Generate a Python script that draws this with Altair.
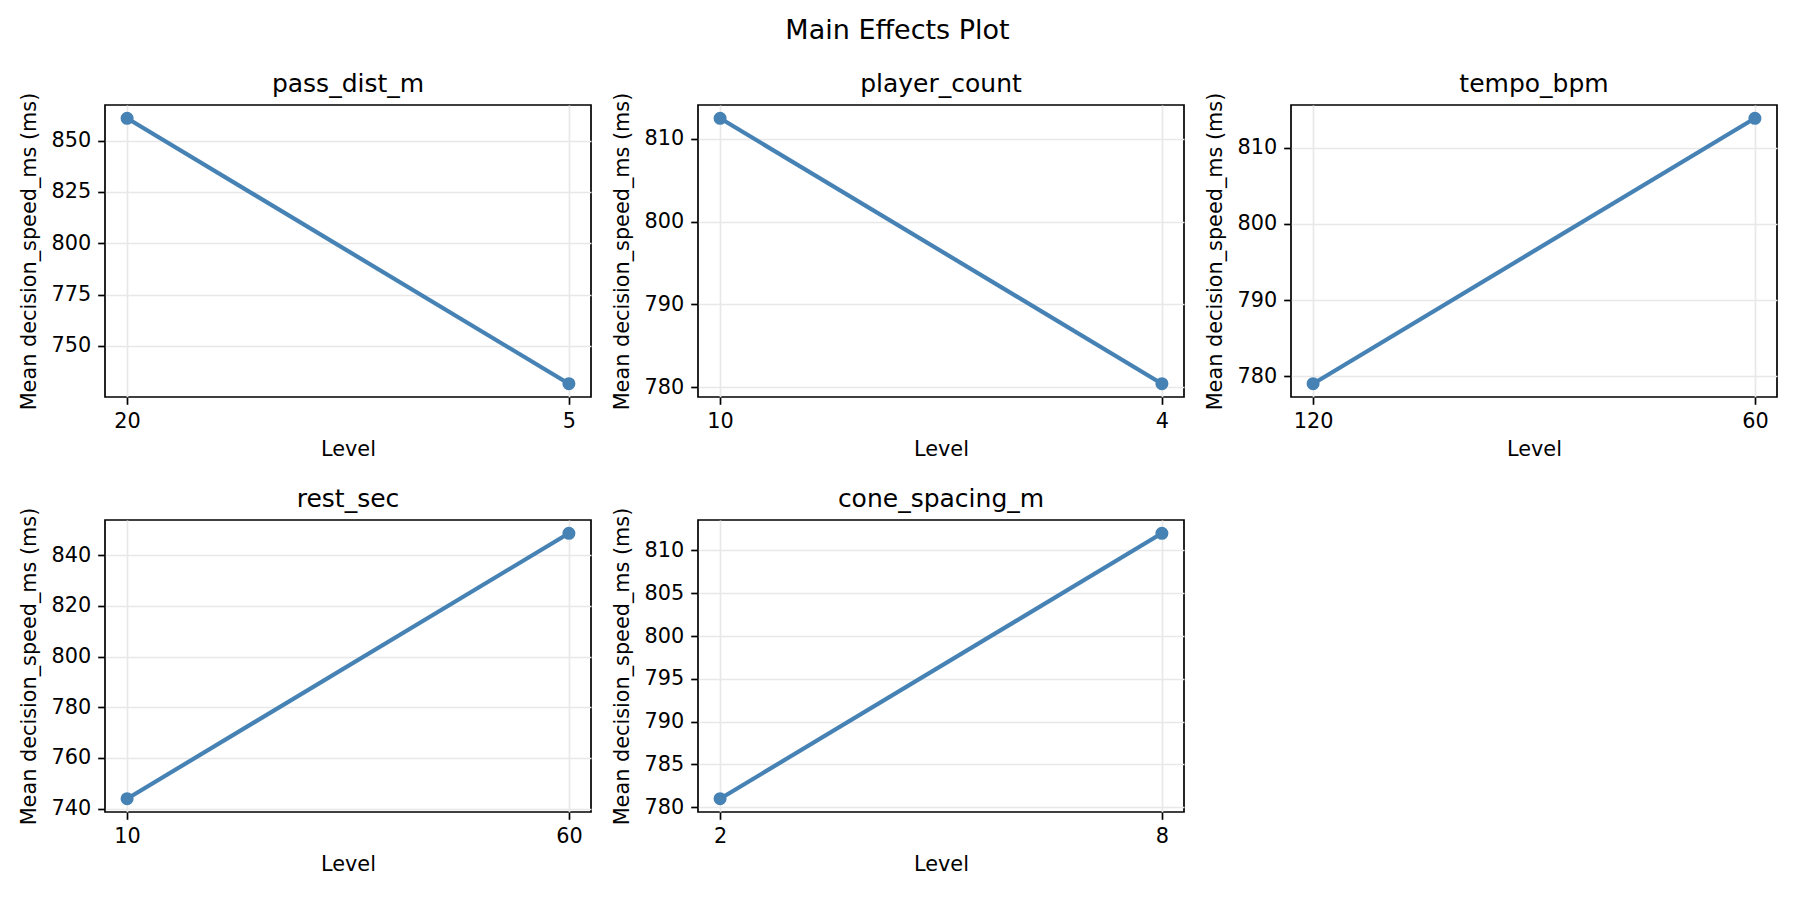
import altair as alt
import pandas as pd

# ---- data ----
factors = ["pass_dist_m", "player_count", "tempo_bpm", "rest_sec", "cone_spacing_m"]
levels = [["20", "5"], ["10", "4"], ["120", "60"], ["10", "60"], ["2", "8"]]
means = [[860.9, 731.6], [812.5, 780.4], [779.0, 813.9], [743.9, 848.7], [781.0, 812.0]]
y_ticks = [
    [750, 775, 800, 825, 850],
    [780, 790, 800, 810],
    [780, 790, 800, 810],
    [740, 760, 780, 800, 820, 840],
    [780, 785, 790, 795, 800, 805, 810],
]

FONT = "DejaVu Sans"
BLUE = "#4682b4"
W, H = 486, 292


def panel(i):
    df = pd.DataFrame({"Level": levels[i], "Mean": means[i]})
    lo, hi = min(means[i]), max(means[i])
    m = 0.05 * (hi - lo)
    x = alt.X(
        "Level:N",
        sort=levels[i],
        scale=alt.Scale(type="point", padding=0.05),
        axis=alt.Axis(title="Level", labelAngle=0, titlePadding=8),
    )
    y = alt.Y(
        "Mean:Q",
        scale=alt.Scale(domain=[lo - m, hi + m], nice=False, zero=False),
        axis=alt.Axis(title="Mean decision_speed_ms (ms)", values=y_ticks[i], titlePadding=12),
    )
    base = alt.Chart(df).encode(x=x, y=y)
    line = base.mark_line(color=BLUE, strokeWidth=4.2)
    pts = base.mark_circle(color=BLUE, size=170, opacity=1)
    return (line + pts).properties(
        width=W,
        height=H,
        title=alt.TitleParams(factors[i], fontSize=25, font=FONT, fontWeight="normal",
                              baseline="alphabetic", offset=-25, color="black"),
    )


chart = alt.concat(
    *[panel(i) for i in range(5)],
    columns=3,
    spacing={"row": 123, "column": 107},
    bounds="flush",
).properties(
    title=alt.TitleParams("Main Effects Plot", fontSize=27, font=FONT, fontWeight="normal",
                          anchor="middle", baseline="alphabetic", offset=5, color="black"),
    padding={"left": 9, "top": 9, "right": 5, "bottom": 5},
).configure_view(
    stroke="black", strokeWidth=1.7
).configure_axis(
    labelFont=FONT, titleFont=FONT, labelFontSize=20.8, titleFontSize=20.8,
    titleFontWeight="normal", labelColor="black", titleColor="black",
    domain=False, tickColor="black", tickWidth=1.7, tickSize=7.3, labelPadding=7,
    grid=True, gridColor="#e8e8e8", gridWidth=1.7,
)

chart.save("out.html", embed_options={"renderer": "svg", "actions": False})
